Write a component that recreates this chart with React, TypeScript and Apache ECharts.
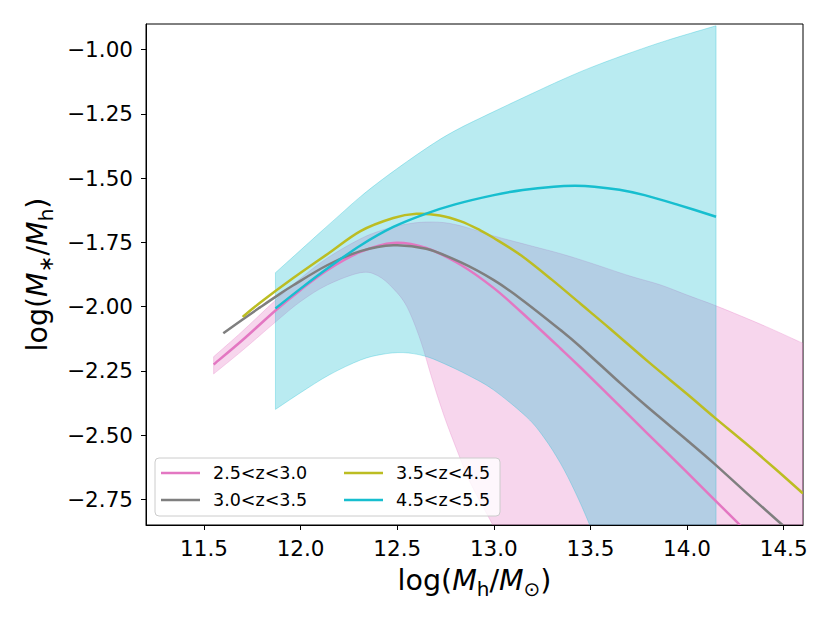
import React, { useEffect, useRef } from 'react';
import * as echarts from 'echarts';

const FONT = 'DejaVu Sans';

const seriesNames = ['2.5<z<3.0', '3.0<z<3.5', '3.5<z<4.5', '4.5<z<5.5'];
const seriesColors = ['#e377c2', '#7f7f7f', '#bcbd22', '#17becf'];

const xTicks = [11.5, 12.0, 12.5, 13.0, 13.5, 14.0, 14.5];
const yTicks = [-2.75, -2.5, -2.25, -2.0, -1.75, -1.5, -1.25, -1.0];

const line25: [number, number][] = [
  [11.55, -2.225], [11.7, -2.13], [11.87, -2.015], [12.0, -1.935], [12.14, -1.857],
  [12.31, -1.787], [12.48, -1.752], [12.65, -1.772], [12.83, -1.838], [13.0, -1.928],
  [13.14, -2.02], [13.345, -2.163], [13.45, -2.238], [13.656, -2.39], [13.794, -2.493],
  [14.0, -2.645], [14.14, -2.75], [14.26, -2.84], [14.35, -2.908],
];
const line30: [number, number][] = [
  [11.6, -2.104], [11.7, -2.05], [11.79, -2.003], [11.87, -1.962], [11.96, -1.918],
  [12.14, -1.838], [12.31, -1.784], [12.48, -1.761], [12.65, -1.775], [12.83, -1.828],
  [13.0, -1.897], [13.14, -1.97], [13.345, -2.091], [13.449, -2.157], [13.656, -2.299],
  [13.794, -2.39], [14.0, -2.52], [14.139, -2.61], [14.3, -2.72], [14.485, -2.844], [14.55, -2.885],
];
const line35: [number, number][] = [
  [11.7, -2.04], [11.79, -1.985], [11.96, -1.89], [12.14, -1.795], [12.31, -1.706],
  [12.48, -1.655], [12.6, -1.639], [12.72, -1.645], [12.83, -1.668], [12.93, -1.703],
  [13.0, -1.733], [13.14, -1.8], [13.3, -1.895], [13.45, -1.99], [13.6, -2.085],
  [13.8, -2.215], [14.0, -2.34], [14.14, -2.43], [14.3, -2.53], [14.45, -2.627], [14.6, -2.727],
];
const line45: [number, number][] = [
  [11.87, -2.007], [12.0, -1.93], [12.14, -1.851], [12.31, -1.762], [12.48, -1.69],
  [12.65, -1.638], [12.8, -1.602], [13.0, -1.566], [13.15, -1.546], [13.31, -1.533],
  [13.42, -1.53], [13.52, -1.533], [13.65, -1.545], [13.78, -1.566], [13.95, -1.603], [14.15, -1.65],
];

const pinkBandUpper: [number, number][] = [
  [11.55, -2.195], [11.7, -2.095], [11.87, -1.975], [12.0, -1.89], [12.14, -1.81],
  [12.3, -1.74], [12.4, -1.708], [12.5, -1.686], [12.62, -1.672], [12.74, -1.673],
  [12.85, -1.69], [13.0, -1.725], [13.2, -1.765], [13.35, -1.795], [13.5, -1.83],
  [13.7, -1.88], [13.86, -1.915], [14.0, -1.955], [14.16, -2.0], [14.4, -2.075], [14.6, -2.143],
];
const pinkBandLower: [number, number][] = [
  [11.55, -2.262], [11.7, -2.17], [11.87, -2.06], [12.0, -1.98], [12.14, -1.915],
  [12.31, -1.868], [12.4, -1.88], [12.48, -1.93], [12.55, -2.0], [12.62, -2.13],
  [12.68, -2.28], [12.74, -2.42], [12.81, -2.56], [12.88, -2.688], [13.0, -2.857],
  [13.1, -3.0], [13.3, -3.25], [14.6, -4.0],
];
const cyanBandUpper: [number, number][] = [
  [11.87, -1.868], [12.0, -1.78], [12.1, -1.712], [12.2, -1.645], [12.31, -1.572],
  [12.45, -1.49], [12.65, -1.384], [12.8, -1.315], [13.0, -1.241], [13.2, -1.17],
  [13.35, -1.118], [13.5, -1.07], [13.7, -1.014], [13.9, -0.963], [14.15, -0.907],
];
const cyanBandLower: [number, number][] = [
  [11.87, -2.4], [12.0, -2.335], [12.15, -2.265], [12.31, -2.208], [12.42, -2.186],
  [12.53, -2.179], [12.64, -2.192], [12.74, -2.221], [12.87, -2.268], [13.0, -2.325],
  [13.17, -2.43], [13.26, -2.51], [13.345, -2.61], [13.42, -2.72], [13.5, -2.857],
  [13.6, -3.05], [13.8, -3.3], [14.15, -3.8],
];

const lines = [line25, line30, line35, line45];

// Catmull-Rom curve through pixel points, as cubic bezier segments
function curveThrough(pts: number[][], start: 'M' | 'L'): string {
  let d = `${start}${pts[0][0]},${pts[0][1]}`;
  for (let i = 0; i < pts.length - 1; i++) {
    const p0 = pts[Math.max(0, i - 1)];
    const p1 = pts[i];
    const p2 = pts[i + 1];
    const p3 = pts[Math.min(pts.length - 1, i + 2)];
    const c1x = p1[0] + (p2[0] - p0[0]) / 6;
    const c1y = p1[1] + (p2[1] - p0[1]) / 6;
    const c2x = p2[0] - (p3[0] - p1[0]) / 6;
    const c2y = p2[1] - (p3[1] - p1[1]) / 6;
    d += ` C${c1x},${c1y} ${c2x},${c2y} ${p2[0]},${p2[1]}`;
  }
  return d;
}

function bandSeries(upper: [number, number][], lower: [number, number][], rgb: string) {
  return {
    type: 'custom',
    clip: true,
    silent: true,
    z: 1,
    data: [0],
    renderItem: (_params: any, api: any) => {
      const up = upper.map((p) => api.coord(p));
      const lo = lower.slice().reverse().map((p) => api.coord(p));
      const d = curveThrough(up, 'M') + ' ' + curveThrough(lo, 'L') + ' Z';
      return {
        type: 'path',
        shape: { pathData: d },
        style: {
          fill: `rgba(${rgb},0.3)`,
          stroke: `rgba(${rgb},0.3)`,
          lineWidth: 1,
        },
      };
    },
  };
}

function curveSeries(name: string, pts: [number, number][], color: string) {
  return {
    type: 'custom',
    name,
    clip: true,
    silent: true,
    z: 2,
    data: [0],
    itemStyle: { color },
    renderItem: (_params: any, api: any) => {
      const px = pts.map((p) => api.coord(p));
      return {
        type: 'path',
        shape: { pathData: curveThrough(px, 'M') },
        style: { fill: 'none', stroke: color, lineWidth: 2.5, lineCap: 'butt', lineJoin: 'round' },
      };
    },
  };
}

const richName = {
  n: { fontSize: 28.5, lineHeight: 38, fontFamily: FONT, color: '#000' },
  i: { fontSize: 28.5, lineHeight: 38, fontFamily: FONT, fontStyle: 'italic', color: '#000' },
  s: { fontSize: 20, lineHeight: 20, fontFamily: FONT, color: '#000', verticalAlign: 'bottom' },
};

export default function App() {
  const ref = useRef<HTMLDivElement>(null);
  useEffect(() => {
    document.body.style.margin = '0';
    const chart = echarts.init(ref.current!, undefined, { renderer: 'svg' });
    const legendText = {
      fontSize: 17.5,
      fontFamily: FONT,
      color: '#000',
      lineHeight: 20,
      padding: [0, 0, 0, 8],
    };
    const legendCommon = {
      orient: 'vertical', top: 463, padding: 0,
      icon: 'rect', itemWidth: 39, itemHeight: 2.5, itemGap: 7, selectedMode: false,
      textStyle: legendText,
    };
    chart.setOption({
      animation: false,
      textStyle: { fontFamily: FONT },
      grid: {
        left: 146, top: 24, right: 27, bottom: 98,
        show: true, borderColor: '#000', borderWidth: 1, backgroundColor: 'transparent',
      },
      xAxis: {
        type: 'value', min: 11.2, max: 14.6,
        axisLine: { show: true, lineStyle: { color: '#000', width: 1 } },
        axisTick: { show: true, customValues: xTicks, length: 5, lineStyle: { color: '#000', width: 1 } },
        axisLabel: {
          customValues: xTicks,
          formatter: (v: number) => v.toFixed(1),
          fontSize: 21.5, color: '#000', fontFamily: FONT, margin: 12,
        },
        splitLine: { show: false },
        name: '{n|log(}{i|M}{s|h}{n|/}{i|M}{s|⊙}{n|)}',
        nameLocation: 'middle',
        nameGap: 36,
        nameTextStyle: { rich: richName },
      },
      yAxis: {
        type: 'value', min: -2.85, max: -0.9,
        axisLine: { show: true, lineStyle: { color: '#000', width: 1 } },
        axisTick: { show: true, customValues: yTicks, length: 5, lineStyle: { color: '#000', width: 1 } },
        axisLabel: {
          customValues: yTicks,
          formatter: (v: number) => (v < 0 ? '\u2212' : '') + Math.abs(v).toFixed(2),
          fontSize: 21.5, color: '#000', fontFamily: FONT, margin: 13,
        },
        splitLine: { show: false },
        name: '{n|log(}{i|M}{s|\u2217}{n|/}{i|M}{s|h}{n|)}',
        nameLocation: 'middle',
        nameRotate: 90,
        nameGap: 90,
        nameTextStyle: { rich: richName },
      },
      legend: [
        { ...legendCommon, data: [seriesNames[0], seriesNames[1]], left: 161 },
        { ...legendCommon, data: [seriesNames[2], seriesNames[3]], left: 344 },
      ],
      graphic: [
        {
          type: 'rect',
          z: 3,
          silent: true,
          shape: { x: 155, y: 458, width: 345, height: 58, r: 4 },
          style: { fill: 'rgba(255,255,255,0.8)', stroke: '#cccccc', lineWidth: 1 },
        },
      ],
      series: [
        bandSeries(pinkBandUpper, pinkBandLower, '227,119,194'),
        bandSeries(cyanBandUpper, cyanBandLower, '23,190,207'),
        ...lines.map((d, k) => curveSeries(seriesNames[k], d, seriesColors[k])),
      ],
    });
    return () => chart.dispose();
  }, []);
  return <div ref={ref} style={{ width: 830, height: 623 }} />;
}
